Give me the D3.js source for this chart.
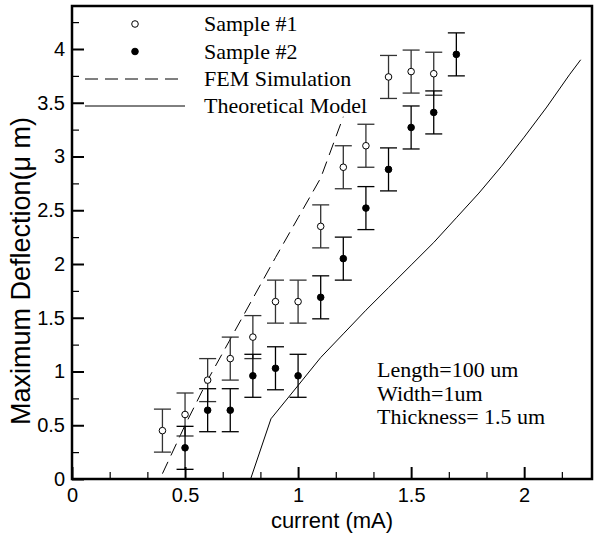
<!DOCTYPE html>
<html>
<head>
<meta charset="utf-8">
<script src="https://cdn.jsdelivr.net/npm/d3@7"></script>
<style>
  body { margin: 0; background: #fff; }
  svg { display: block; }
</style>
</head>
<body>
<div id="chart"></div>
<script>
// measured data (current in mA, deflection in um)
let sample1X = [0.4, 0.5, 0.6, 0.7, 0.8, 0.9, 1.0, 1.1, 1.2, 1.3, 1.4, 1.5, 1.6];
let sample1Y = [0.45, 0.6, 0.92, 1.12, 1.32, 1.65, 1.65, 2.35, 2.9, 3.1, 3.74, 3.79, 3.77];
let sample2X = [0.5, 0.6, 0.7, 0.8, 0.9, 1.0, 1.1, 1.2, 1.3, 1.4, 1.5, 1.6, 1.7];
let sample2Y = [0.29, 0.64, 0.64, 0.96, 1.03, 0.96, 1.69, 2.05, 2.52, 2.88, 3.27, 3.41, 3.95];
let errHalf = 0.2;

let femX = [0.4, 0.5, 0.6, 0.7, 0.8, 0.9, 1.0, 1.1, 1.2];
let femY = [0.05, 0.5, 0.92, 1.3, 1.68, 2.06, 2.43, 2.8, 3.37];

let theoX = [0.79, 0.88, 1.0, 1.1, 1.2, 1.3, 1.4, 1.5, 1.6, 1.7, 1.8, 1.9, 2.0, 2.1, 2.2, 2.25];
let theoY = [0, 0.56, 0.87, 1.13, 1.35, 1.57, 1.78, 1.99, 2.2, 2.43, 2.66, 2.91, 3.18, 3.46, 3.76, 3.9];

let xTicks = [0, 0.5, 1, 1.5, 2];
let yTicks = [0, 0.5, 1, 1.5, 2, 2.5, 3, 3.5, 4];
let xMinor = [1, 2, 4, 5, 7, 8, 10, 11, 13].map(i => i / 6);
let yMinor = [0.25, 0.75, 1.25, 1.75, 2.25, 2.75, 3.25, 3.75, 4.25];

let legendLabels = ["Sample #1", "Sample #2", "FEM Simulation", "Theoretical Model"];
let noteLines = ["Length=100 um", "Width=1um", "Thickness= 1.5 um"];

let width = 594, height = 536;
let margin = ({top: 6, right: 2, bottom: 57, left: 72});

let x = d3.scaleLinear().domain([0, 2.3]).range([margin.left, width - margin.right]);
let y = d3.scaleLinear().domain([0, 4.4]).range([height - margin.bottom, margin.top]);

let svg = d3.select("#chart").append("svg")
    .attr("width", width).attr("height", height)
    .attr("viewBox", [0, 0, width, height]);

let serif = "'Liberation Serif', 'Times New Roman', serif";
let sans = "'Liberation Sans', Arial, sans-serif";

// curves
let line = d3.line().x(d => x(d[0])).y(d => y(d[1]));
svg.append("path")
    .datum(d3.zip(femX, femY))
    .attr("d", line)
    .attr("fill", "none").attr("stroke", "#000").attr("stroke-width", 1)
    .attr("stroke-dasharray", "13,7");
svg.append("path")
    .datum(d3.zip(theoX, theoY))
    .attr("d", line)
    .attr("fill", "none").attr("stroke", "#000").attr("stroke-width", 1);

// error bars + markers
function drawSeries(xs, ys, filled, barColor){
    let pts = d3.zip(xs, ys);
    let g = svg.append("g").attr("stroke", barColor).attr("stroke-width", 1.3);
    g.selectAll("line.v").data(pts).join("line").attr("class", "v")
        .attr("x1", d => x(d[0])).attr("x2", d => x(d[0]))
        .attr("y1", d => y(d[1] - errHalf)).attr("y2", d => y(d[1] + errHalf));
    [-1, 1].forEach(s => {
        g.selectAll("line.c" + (s + 1)).data(pts).join("line").attr("class", "c" + (s + 1))
            .attr("x1", d => x(d[0]) - 8.5).attr("x2", d => x(d[0]) + 8.5)
            .attr("y1", d => y(d[1] + s * errHalf)).attr("y2", d => y(d[1] + s * errHalf));
    });
    svg.append("g").selectAll("circle").data(pts).join("circle")
        .attr("cx", d => x(d[0])).attr("cy", d => y(d[1]))
        .attr("r", 3.3)
        .attr("fill", filled ? "#000" : "#fff")
        .attr("stroke", "#000").attr("stroke-width", 1);
}
drawSeries(sample1X, sample1Y, false, "#333");
drawSeries(sample2X, sample2Y, true, "#000");

// axes, ticks pointing inward
let xAxis = svg.append("g")
    .attr("transform", `translate(0,${height - margin.bottom})`)
    .call(d3.axisBottom(x).tickValues(xTicks).tickSize(-12).tickPadding(9).tickFormat(d => d));
let xAxisMinor = svg.append("g")
    .attr("transform", `translate(0,${height - margin.bottom})`)
    .call(d3.axisBottom(x).tickValues(xMinor).tickSize(-7).tickFormat(""));
let yAxis = svg.append("g")
    .attr("transform", `translate(${margin.left},0)`)
    .call(d3.axisLeft(y).tickValues(yTicks).tickSize(-12).tickPadding(7).tickFormat(d => d));
let yAxisMinor = svg.append("g")
    .attr("transform", `translate(${margin.left},0)`)
    .call(d3.axisLeft(y).tickValues(yMinor).tickSize(-7).tickFormat(""));

[xAxis, xAxisMinor, yAxis, yAxisMinor].forEach(a => {
    a.select(".domain").remove();
    a.selectAll(".tick line").attr("stroke", "#000").attr("stroke-width", 2);
    a.selectAll("text").attr("font-family", sans).attr("font-size", 20).attr("fill", "#000");
});
xAxisMinor.selectAll(".tick line").attr("stroke-width", 1.2);
yAxisMinor.selectAll(".tick line").attr("stroke-width", 1.2);

// frame
svg.append("rect")
    .attr("x", margin.left).attr("y", margin.top)
    .attr("width", width - margin.right - margin.left)
    .attr("height", height - margin.bottom - margin.top)
    .attr("fill", "none").attr("stroke", "#000").attr("stroke-width", 2.5);

// axis titles
svg.append("text")
    .attr("x", (margin.left + width - margin.right) / 2).attr("y", 528)
    .attr("text-anchor", "middle")
    .attr("font-family", sans).attr("font-size", 22)
    .text("current (mA)");
svg.append("text")
    .attr("transform", `translate(30,271) rotate(-90)`)
    .attr("text-anchor", "middle")
    .attr("font-family", sans).attr("font-size", 27)
    .text("Maximum Deflection(\u03bc m)");

// legend
let legendY = [24, 51.5, 79, 106];
let lg = svg.append("g");
lg.append("circle").attr("cx", 135).attr("cy", legendY[0]).attr("r", 3.3)
    .attr("fill", "#fff").attr("stroke", "#000");
lg.append("circle").attr("cx", 135).attr("cy", legendY[1]).attr("r", 3.3)
    .attr("fill", "#000").attr("stroke", "#000");
lg.append("line").attr("x1", 85).attr("x2", 185).attr("y1", legendY[2]).attr("y2", legendY[2])
    .attr("stroke", "#000").attr("stroke-dasharray", "13,7");
lg.append("line").attr("x1", 85).attr("x2", 185).attr("y1", legendY[3]).attr("y2", legendY[3])
    .attr("stroke", "#000");
lg.selectAll("text").data(legendLabels).join("text")
    .attr("x", 204).attr("y", (d, i) => legendY[i] + 7)
    .attr("font-family", serif).attr("font-size", 22)
    .text(d => d);

// parameters note
svg.append("g").selectAll("text").data(noteLines).join("text")
    .attr("x", 377).attr("y", (d, i) => 377 + i * 23.5)
    .attr("font-family", serif).attr("font-size", 22)
    .text(d => d);
</script>
</body>
</html>
